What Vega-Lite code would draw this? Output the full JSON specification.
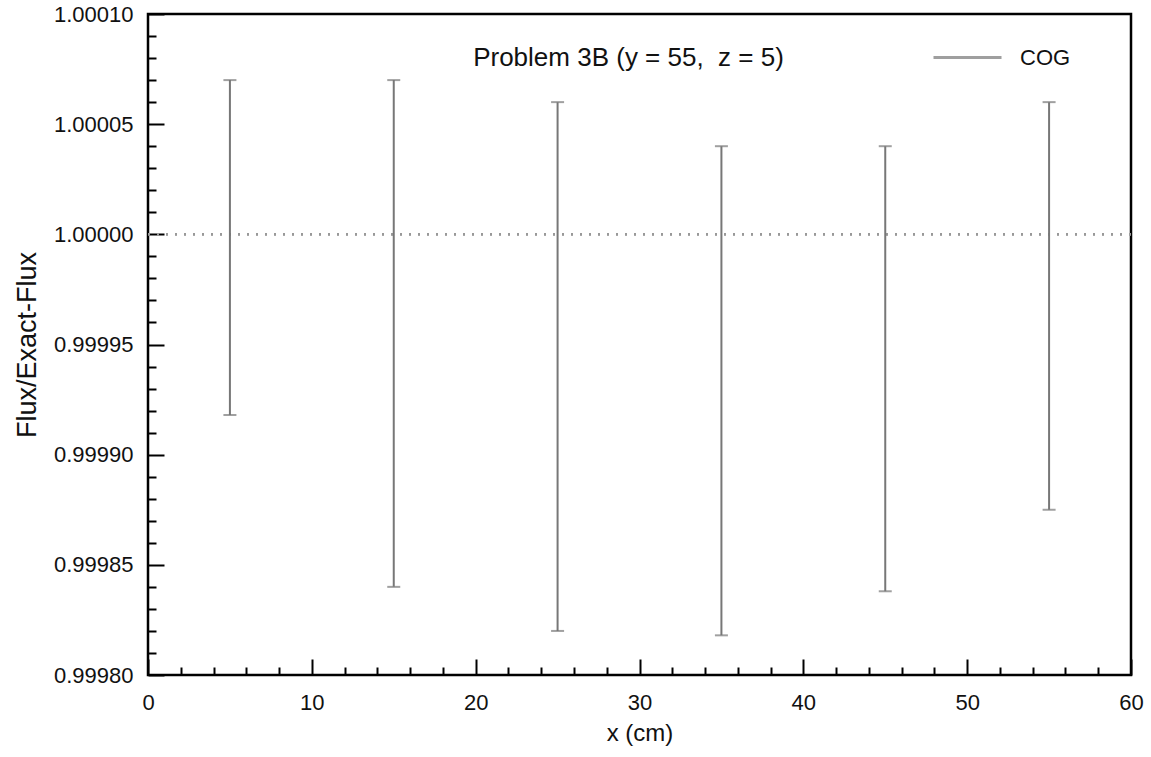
{
  "$schema": "https://vega.github.io/schema/vega-lite/v6.json",
  "width": 983,
  "height": 661,
  "autosize": "none",
  "padding": {"left": 148, "top": 14, "right": 20, "bottom": 82},
  "background": "white",
  "config": {
    "font": "Liberation Sans",
    "view": {"stroke": "black", "strokeWidth": 2.5},
    "axis": {"grid": false, "domain": false, "labelColor": "#111", "titleColor": "#111", "labelFont": "Liberation Sans", "titleFont": "Liberation Sans", "titleFontWeight": "normal", "tickColor": "black", "labelOverlap": false}
  },
  "title": {
    "text": "Problem 3B (y = 55,\u00a0 z = 5)",
    "anchor": "middle",
    "offset": -68,
    "dx": -11,
    "fontSize": 26,
    "fontWeight": "normal",
    "font": "Liberation Sans",
    "color": "#111"
  },
  "data": {
    "values": [
      {"x": 5, "lo": 0.999918, "hi": 1.00007, "series": "COG"},
      {"x": 15, "lo": 0.99984, "hi": 1.00007, "series": "COG"},
      {"x": 25, "lo": 0.99982, "hi": 1.00006, "series": "COG"},
      {"x": 35, "lo": 0.999818, "hi": 1.00004, "series": "COG"},
      {"x": 45, "lo": 0.999838, "hi": 1.00004, "series": "COG"},
      {"x": 55, "lo": 0.999875, "hi": 1.00006, "series": "COG"}
    ]
  },
  "layer": [
    {
      "mark": {"type": "rule", "color": "#999", "strokeWidth": 2, "strokeDash": [2, 7]},
      "encoding": {"y": {"datum": 1, "type": "quantitative"}}
    },
    {
      "mark": {"type": "errorbar", "ticks": {"size": 13, "thickness": 2}, "rule": {"strokeWidth": 2}},
      "encoding": {
        "x": {
          "field": "x", "type": "quantitative",
          "scale": {"domain": [0, 60], "nice": false, "zero": false},
          "axis": {
            "title": "x (cm)",
            "values": [0,2,4,6,8,10,12,14,16,18,20,22,24,26,28,30,32,34,36,38,40,42,44,46,48,50,52,54,56,58,60],
            "tickCount": 100,
            "format": "d",
            "labelExpr": "datum.value % 10 == 0 ? datum.label : ''",
            "tickSize": {"condition": {"test": "datum.value % 10 == 0", "value": -16}, "value": -8},
            "tickWidth": 2,
            "labelFontSize": 22,
            "labelPadding": 33,
            "labelFlush": false,
            "labelOverlap": false,
            "titleFontSize": 24,
            "titlePadding": 0
          }
        },
        "y": {
          "field": "lo", "type": "quantitative",
          "scale": {"domain": [0.9998, 1.0001], "nice": false, "zero": false},
          "axis": {
            "title": "Flux/Exact-Flux",
            "values": [0.9998,0.99981,0.99982,0.99983,0.99984,0.99985,0.99986,0.99987,0.99988,0.99989,0.9999,0.99991,0.99992,0.99993,0.99994,0.99995,0.99996,0.99997,0.99998,0.99999,1,1.00001,1.00002,1.00003,1.00004,1.00005,1.00006,1.00007,1.00008,1.00009,1.0001],
            "tickCount": 100,
            "format": ".5f",
            "labelExpr": "abs(datum.value * 20000 - round(datum.value * 20000)) < 0.01 ? datum.label : ''",
            "tickSize": {"condition": {"test": "abs(datum.value * 20000 - round(datum.value * 20000)) < 0.01", "value": -16}, "value": -8},
            "tickWidth": 2,
            "labelFontSize": 22,
            "labelPadding": 31,
            "labelFlush": false,
            "labelOverlap": false,
            "titleFontSize": 27,
            "titlePadding": 12
          }
        },
        "y2": {"field": "hi"},
        "color": {
          "field": "series", "type": "nominal",
          "scale": {"range": ["#777777"]},
          "legend": {
            "title": null,
            "orient": "none",
            "legendX": 784,
            "legendY": 8,
            "symbolType": "stroke",
            "symbolSize": 4624,
            "symbolStrokeWidth": 3,
            "labelFontSize": 22,
            "labelFont": "Liberation Sans",
            "labelColor": "#111",
            "labelOffset": 17
          }
        }
      }
    }
  ]
}
